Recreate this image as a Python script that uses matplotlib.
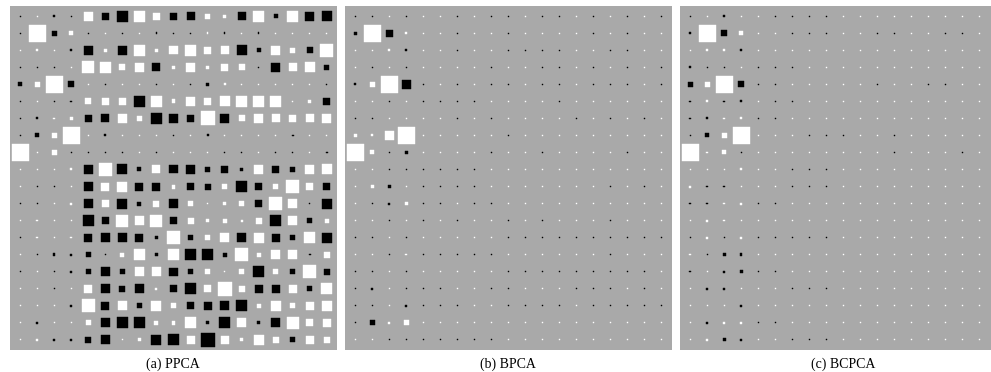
import numpy as np
import matplotlib
matplotlib.use('Agg')
import matplotlib.pyplot as plt
from matplotlib.patches import Rectangle

# ======================================================
# Loading matrices (rows = data dims, cols = latent dims)
# white = positive, black = negative
# ======================================================
ppca = np.array([
    [-0.006, 0.0015, -0.014, -0.006, 0.26, -0.154, -0.444, 0.394, 0.186, -0.186, -0.221, 0.075, 0.038, -0.221, 0.444, -0.055, 0.394, -0.26, -0.346],
    [-0.006, 1.0, -0.098, 0.055, -0.006, 0.0035, -0.006, 0.0035, -0.0096, -0.006, -0.006, 0.0096, -0.0096, 0.0035, -0.0096, 0.0035, 0.0035, 0.0035, 0.0035],
    [0.0035, 0.014, 0.006, -0.014, -0.30, 0.025, -0.30, 0.394, 0.038, 0.221, 0.394, 0.154, 0.221, -0.346, -0.055, 0.30, 0.075, -0.125, 0.555],
    [-0.006, -0.006, -0.006, 0.0035, 0.498, 0.394, 0.125, 0.30, -0.221, 0.025, 0.30, 0.038, 0.186, 0.125, -0.006, -0.26, 0.221, 0.346, -0.075],
    [-0.055, 0.098, 0.96, -0.125, 0.006, -0.006, 0.006, 0.006, -0.006, 0.006, -0.0096, -0.019, 0.014, 0.0035, 0.0035, 0.0035, 0.0035, 0.0035, -0.0035],
    [-0.006, 0.006, -0.006, -0.0096, 0.125, 0.154, 0.186, -0.394, 0.444, 0.055, 0.30, 0.186, 0.346, 0.394, 0.394, 0.444, 0.0035, 0.038, -0.154],
    [-0.006, -0.014, 0.0096, 0.025, -0.154, -0.221, 0.26, 0.075, -0.444, -0.30, -0.186, 0.678, -0.26, 0.125, 0.26, 0.221, 0.154, 0.221, 0.26],
    [-0.0035, -0.055, 0.075, 1.0, 0.006, -0.014, 0.006, 0.0096, 0.0035, -0.006, 0.006, -0.014, 0.006, 0.006, 0.006, 0.006, -0.0096, 0.006, 0.006],
    [0.96, 0.006, 0.075, -0.006, -0.0035, -0.006, -0.0035, 0.0035, -0.0035, 0.0035, 0.006, 0.0035, -0.0035, -0.0035, 0.0035, -0.0035, -0.006, 0.0035, -0.0096],
    [0.0035, 0.0015, 0.0035, 0.014, -0.26, 0.615, -0.346, -0.055, 0.221, -0.221, -0.30, -0.098, -0.154, -0.038, 0.30, -0.186, -0.098, 0.26, 0.346],
    [0.006, -0.006, -0.0035, 0.0035, -0.30, 0.221, 0.346, -0.221, -0.221, 0.055, -0.154, -0.125, 0.098, -0.394, -0.154, 0.098, 0.615, 0.154, -0.154],
    [-0.0035, -0.0015, 0.0035, 0.014, -0.26, 0.154, -0.346, -0.055, 0.125, -0.30, 0.098, 0.0035, 0.038, 0.098, -0.186, 0.555, 0.26, -0.0035, -0.346],
    [0.0015, 0.0096, 0.006, 0.0015, -0.444, -0.154, 0.498, 0.30, 0.498, -0.154, 0.125, 0.038, 0.055, 0.014, 0.125, -0.444, 0.30, -0.075, 0.055],
    [-0.006, 0.0096, 0.0035, 0.0096, -0.221, -0.26, -0.26, -0.221, -0.038, 0.555, -0.098, 0.075, 0.26, -0.26, 0.346, -0.221, -0.075, 0.444, -0.346],
    [0.0035, -0.0015, -0.019, -0.014, -0.075, -0.006, 0.055, 0.394, -0.038, 0.444, -0.394, -0.394, -0.055, 0.615, 0.055, 0.26, 0.30, -0.0096, 0.125],
    [-0.006, 0.0015, -0.006, -0.014, -0.075, -0.30, -0.098, 0.30, 0.26, -0.221, -0.098, 0.075, 0.0035, 0.075, -0.444, 0.075, -0.075, 0.615, -0.125],
    [0.0035, 0.0015, -0.006, 0.006, 0.221, -0.26, -0.125, -0.30, 0.014, -0.154, -0.394, 0.154, 0.678, 0.125, -0.221, -0.221, 0.221, -0.075, 0.394],
    [0.0035, 0.0035, 0.0035, -0.014, 0.555, -0.221, 0.30, -0.075, 0.346, 0.098, -0.186, -0.221, -0.30, -0.444, 0.055, 0.346, 0.075, 0.221, 0.346],
    [0.0015, -0.0096, 0.0035, 0.006, 0.075, -0.30, -0.394, -0.394, 0.055, 0.055, 0.394, -0.025, -0.394, 0.26, -0.025, -0.30, 0.498, 0.154, 0.221],
    [0.0035, 0.0096, -0.0096, -0.0096, -0.125, -0.30, 0.0035, 0.038, -0.346, -0.444, 0.221, -0.678, 0.221, 0.038, 0.346, 0.125, -0.075, 0.221, 0.125],
])

bpca = np.array([
    [-0.002, -0.003, 0.002, -0.002, 0.002, 0.002, -0.002, 0.002, -0.003, -0.002, 0.002, -0.002, -0.002, 0.002, -0.002, 0.002, -0.002, 0.002, -0.002],
    [-0.038, 1.0, -0.154, 0.014, 0.002, 0.002, -0.002, 0.002, 0.002, -0.002, 0.002, 0.002, 0.002, 0.002, -0.002, 0.002, -0.002, 0.002, 0.002],
    [0.002, 0.002, 0.0096, -0.0096, 0.002, 0.002, -0.002, 0.002, 0.002, -0.003, -0.002, -0.002, -0.002, 0.002, 0.002, -0.002, -0.002, 0.002, 0.002],
    [0.002, -0.003, 0.002, -0.002, 0.002, 0.002, 0.002, 0.002, -0.002, 0.002, 0.002, -0.002, -0.002, 0.002, -0.002, 0.002, -0.002, 0.002, -0.002],
    [-0.014, 0.098, 1.0, -0.26, -0.003, 0.002, -0.003, 0.002, -0.003, -0.003, 0.002, -0.003, -0.003, 0.002, -0.003, -0.003, -0.003, 0.002, -0.003],
    [0.002, 0.002, -0.002, 0.002, -0.003, -0.003, -0.003, -0.003, 0.002, 0.002, 0.002, 0.002, -0.002, 0.002, 0.002, 0.002, 0.002, 0.002, 0.002],
    [-0.002, -0.003, 0.002, 0.002, 0.002, 0.002, -0.002, 0.002, -0.002, 0.002, 0.002, 0.002, 0.002, -0.002, 0.002, -0.002, 0.002, -0.002, 0.002],
    [0.025, 0.014, 0.26, 1.0, 0.002, 0.002, 0.002, 0.002, 0.002, -0.002, 0.002, 0.002, 0.002, 0.002, 0.002, 0.002, 0.002, 0.002, 0.002],
    [0.96, 0.055, -0.003, -0.025, 0.002, 0.002, 0.002, 0.002, -0.002, 0.002, 0.002, -0.002, 0.002, 0.002, 0.002, 0.002, -0.002, 0.002, 0.002],
    [0.002, 0.002, -0.002, -0.002, -0.003, -0.003, -0.003, -0.003, 0.002, 0.002, 0.002, 0.002, 0.002, 0.002, 0.002, 0.002, 0.002, 0.002, 0.002],
    [0.006, 0.025, -0.025, 0.002, -0.002, -0.002, -0.002, -0.002, 0.002, 0.002, 0.002, 0.002, 0.002, 0.002, 0.002, -0.002, 0.002, -0.002, 0.002],
    [0.006, -0.006, -0.014, 0.025, -0.003, -0.003, 0.002, -0.002, -0.003, 0.002, 0.002, 0.002, 0.002, 0.002, 0.002, 0.002, 0.002, 0.002, 0.002],
    [0.002, 0.002, -0.003, 0.002, -0.002, 0.002, -0.002, 0.002, 0.002, -0.002, 0.002, -0.002, 0.002, 0.002, 0.002, -0.002, 0.002, 0.002, 0.002],
    [-0.002, -0.003, 0.003, -0.003, 0.002, 0.002, 0.002, 0.002, 0.002, -0.003, -0.003, -0.003, -0.003, -0.003, -0.003, -0.003, -0.003, -0.003, -0.003],
    [0.002, 0.002, -0.002, 0.0096, -0.002, -0.002, -0.002, -0.002, -0.002, 0.002, 0.002, 0.002, 0.002, 0.002, 0.002, -0.002, 0.002, 0.002, 0.002],
    [-0.002, -0.003, 0.002, -0.002, 0.002, 0.002, 0.002, 0.002, 0.002, -0.003, -0.003, -0.003, -0.003, -0.002, -0.003, -0.002, -0.002, -0.002, 0.002],
    [-0.002, -0.0096, 0.002, -0.003, -0.002, -0.002, 0.002, 0.002, -0.002, -0.003, 0.002, 0.002, 0.002, -0.002, -0.002, -0.002, 0.002, -0.002, 0.002],
    [-0.002, -0.002, 0.002, -0.0096, -0.002, -0.002, -0.002, 0.002, 0.002, -0.002, -0.002, -0.002, -0.002, 0.002, -0.002, -0.002, -0.002, -0.002, -0.002],
    [-0.003, -0.075, 0.014, 0.098, 0.002, 0.002, 0.002, 0.002, 0.002, 0.002, 0.002, 0.002, 0.002, 0.002, 0.002, 0.002, 0.002, 0.002, 0.002],
    [0.002, 0.006, -0.002, -0.003, -0.002, -0.002, -0.002, -0.002, -0.002, 0.002, 0.002, 0.002, 0.002, 0.002, 0.002, 0.002, 0.002, 0.002, 0.002],
])

bcpca = np.array([
    [-0.006, 0.002, -0.0096, 0.002, 0.002, -0.002, -0.002, -0.002, -0.002, 0.002, 0.002, 0.002, 0.002, 0.002, 0.002, 0.002, 0.002, 0.002, 0.002],
    [-0.0096, 1.0, -0.125, 0.055, 0.002, 0.002, -0.002, -0.002, -0.002, 0.002, 0.002, -0.002, -0.003, 0.002, 0.002, -0.003, -0.003, 0.002, 0.002],
    [0.006, 0.014, 0.0096, -0.014, 0.002, 0.002, 0.002, 0.002, 0.002, 0.002, 0.002, 0.002, 0.002, 0.002, 0.002, 0.002, 0.002, 0.002, 0.002],
    [-0.014, -0.006, -0.006, 0.002, -0.002, -0.002, -0.002, 0.002, 0.002, 0.002, 0.002, 0.002, 0.002, 0.002, 0.002, 0.002, 0.002, 0.002, 0.002],
    [-0.075, 0.098, 1.0, -0.125, -0.002, -0.003, 0.002, 0.002, 0.002, 0.002, 0.002, -0.003, 0.002, 0.002, -0.003, -0.003, 0.002, 0.002, 0.002],
    [-0.0096, 0.014, -0.0096, -0.014, 0.002, -0.002, -0.002, 0.002, 0.002, 0.002, 0.002, 0.002, 0.002, 0.002, 0.002, 0.002, 0.002, 0.002, 0.002],
    [-0.0096, -0.014, 0.0096, 0.014, -0.002, -0.002, 0.002, 0.002, 0.002, 0.002, 0.002, 0.002, 0.002, 0.002, 0.002, 0.002, 0.002, 0.002, 0.002],
    [-0.0035, -0.055, 0.098, 1.0, 0.002, 0.002, 0.002, -0.002, -0.002, -0.002, 0.002, 0.002, -0.002, 0.002, 0.002, 0.002, 0.002, 0.002, 0.002],
    [1.0, 0.0096, 0.055, -0.006, 0.002, 0.002, 0.002, 0.002, 0.002, 0.002, 0.002, 0.002, -0.002, 0.002, 0.002, 0.002, -0.002, 0.002, 0.002],
    [0.006, 0.002, 0.002, 0.014, 0.002, 0.002, -0.002, -0.002, -0.002, 0.002, 0.002, 0.002, 0.002, 0.002, 0.002, 0.002, 0.002, 0.002, 0.002],
    [0.014, -0.0096, -0.0096, 0.006, 0.002, 0.002, -0.002, -0.002, -0.002, 0.002, 0.002, 0.002, 0.002, 0.002, 0.002, 0.002, 0.002, 0.002, 0.002],
    [-0.0096, -0.0096, 0.0096, 0.014, -0.002, -0.002, 0.002, 0.002, 0.002, 0.002, 0.002, 0.002, 0.002, 0.002, 0.002, 0.002, 0.002, 0.002, 0.002],
    [0.002, 0.014, 0.0096, 0.002, 0.002, 0.002, 0.002, 0.002, 0.002, 0.002, 0.002, 0.002, 0.002, 0.002, 0.002, 0.002, 0.002, 0.002, 0.002],
    [-0.003, 0.014, -0.003, 0.014, -0.002, -0.002, -0.002, -0.002, -0.002, 0.002, 0.002, 0.002, 0.002, 0.002, 0.002, 0.002, 0.002, 0.002, 0.002],
    [0.0096, -0.006, -0.025, -0.019, 0.002, 0.002, 0.002, 0.002, 0.002, 0.002, 0.002, 0.002, 0.002, 0.002, 0.002, 0.002, 0.002, 0.002, 0.002],
    [-0.0096, 0.002, -0.014, -0.038, -0.002, -0.002, 0.002, 0.002, 0.002, 0.002, 0.002, 0.002, 0.002, 0.002, 0.002, 0.002, 0.002, 0.002, 0.002],
    [0.006, -0.0096, -0.0096, 0.002, 0.002, 0.002, -0.002, -0.002, -0.002, 0.002, 0.002, 0.002, 0.002, 0.002, 0.002, 0.002, 0.002, 0.002, 0.002],
    [0.006, 0.006, 0.002, -0.014, 0.002, 0.002, 0.002, 0.002, 0.002, 0.002, 0.002, 0.002, 0.002, 0.002, 0.002, 0.002, 0.002, 0.002, 0.002],
    [0.002, -0.019, 0.0096, 0.0096, -0.002, -0.002, 0.002, 0.002, 0.002, 0.002, 0.002, 0.002, 0.002, 0.002, 0.002, 0.002, 0.002, 0.002, 0.002],
    [0.006, 0.014, -0.025, -0.019, 0.002, 0.002, -0.002, -0.002, -0.002, 0.002, 0.002, 0.002, 0.002, 0.002, 0.002, 0.002, 0.002, 0.002, 0.002],
])

titles = ['(a) PPCA', '(b) BPCA', '(c) BCPCA']


def hinton(ax, W, max_weight=1.0):
    ax.set_facecolor('#a9a9a9')
    nrows, ncols = W.shape
    for (r, c), w in np.ndenumerate(W):
        color = 'white' if w > 0 else 'black'
        size = np.sqrt(abs(w) / max_weight)
        ax.add_patch(Rectangle((c - size / 2, r - size / 2), size, size,
                               facecolor=color, edgecolor=color, lw=0.3))
    ax.set_xlim(-0.6, ncols - 0.4)
    ax.set_ylim(nrows - 0.4, -0.6)
    ax.set_xticks([])
    ax.set_yticks([])
    for s in ax.spines.values():
        s.set_visible(False)


fig = plt.figure(figsize=(9.91, 3.72), dpi=100)
W_px, H_px = 991, 372
lefts = [10, 345, 680]
for left, W, title in zip(lefts, [ppca, bpca, bcpca], titles):
    ax = fig.add_axes([left / W_px, 22 / H_px, 327 / W_px, 344 / H_px])
    hinton(ax, W)
    fig.text((left + 163) / W_px, 8 / H_px, title, ha='center', va='center',
             fontsize=10, family='Liberation Serif')

fig.savefig('out.png', dpi=100, facecolor='white')
